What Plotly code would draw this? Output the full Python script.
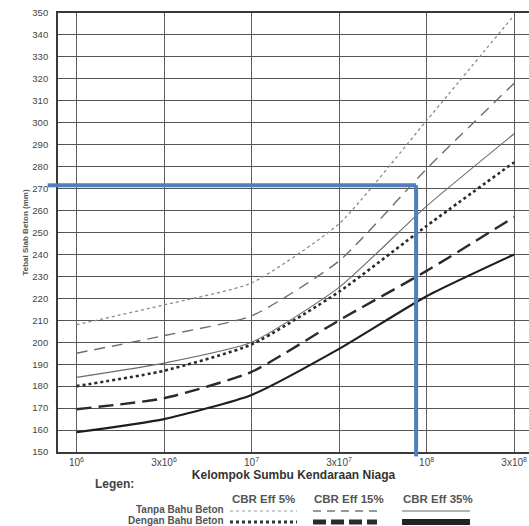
import plotly.graph_objects as go

# ---- data ----
x_labels = ["10<sup>6</sup>", "3x10<sup>6</sup>", "10<sup>7</sup>",
            "3x10<sup>7</sup>", "10<sup>8</sup>", "3x10<sup>8</sup>"]
x_pos = [0, 1, 2, 3, 4, 5]          # equally spaced category positions

cbr5_tanpa = [208, 217, 227, 254, 301, 349]
cbr15_tanpa = [195, 203, 212, 237, 279, 318]
cbr35_tanpa = [184, 190.5, 200, 225, 262, 295]
cbr5_dengan = [180, 187, 199, 223, 253, 282]
cbr15_dengan = [169.5, 174.5, 186.5, 210, 232.5, 257]
cbr35_dengan = [159, 165, 176, 197, 221, 240]

y_ticks = list(range(150, 351, 10))

guide_y = 271.5     # blue reading line: slab thickness
guide_x = 3.88      # blue reading line: traffic position

col_headers = ["CBR Eff 5%", "CBR Eff 15%", "CBR Eff 35%"]
row_labels = ["Tanpa Bahu Beton", "Dengan Bahu Beton"]

# ---- styles ----
styles = [
    (cbr5_tanpa, dict(color="#8a8a8a", width=1.3, dash="dot")),
    (cbr15_tanpa, dict(color="#6e6e6e", width=1.4, dash="11px,7px")),
    (cbr35_tanpa, dict(color="#6a6a6a", width=1.1)),
    (cbr5_dengan, dict(color="#2a2a2a", width=2.6, dash="dot")),
    (cbr15_dengan, dict(color="#2a2a2a", width=2.4, dash="15px,7px")),
    (cbr35_dengan, dict(color="#1e1e1e", width=2.2)),
]
names = ["CBR 5% tanpa", "CBR 15% tanpa", "CBR 35% tanpa",
         "CBR 5% dengan", "CBR 15% dengan", "CBR 35% dengan"]

fig = go.Figure()
for (vals, ln), nm in zip(styles, names):
    fig.add_trace(go.Scatter(x=x_pos, y=vals, mode="lines", name=nm,
                             line=dict(shape="spline", smoothing=0.55, **ln),
                             showlegend=False, hoverinfo="skip"))

FONT = "Liberation Sans, Arial, sans-serif"
x_rng = [-0.211, 5.17]

fig.update_layout(
    width=529, height=526,
    margin=dict(l=58, r=0, t=13, b=74, autoexpand=False),
    paper_bgcolor="white", plot_bgcolor="white",
    font=dict(family=FONT, color="#444"),
    xaxis=dict(range=x_rng, tickmode="array", tickvals=x_pos, ticktext=x_labels,
               showgrid=True, gridcolor="#5e5e5e", gridwidth=1.3,
               showline=True, linecolor="#3a3a3a", linewidth=1.8, mirror=True,
               ticks="", tickfont=dict(size=10, color="#444"), zeroline=False,
               automargin=False,
               title=dict(text="<b>Kelompok Sumbu Kendaraan Niaga</b>",
                          font=dict(size=12, color="#333"), standoff=3)),
    yaxis=dict(range=[150, 350], tickmode="array", tickvals=y_ticks,
               showgrid=True, gridcolor="#555", gridwidth=1.3,
               showline=True, linecolor="#3a3a3a", linewidth=1.8, mirror=True,
               ticks="", ticklabelstandoff=6, automargin=False,
               tickfont=dict(size=9.5, color="#444"), zeroline=False,
               title=dict(text="<b>Tebal Slab Beton (mm)</b>",
                          font=dict(size=8, color="#555"), standoff=3)),
)

blue = "#4f7fbd"
# blue reading lines
fig.add_shape(type="line", xref="x", yref="y", x0=x_rng[0], x1=guide_x,
              y0=guide_y, y1=guide_y, line=dict(color=blue, width=4), layer="above")
fig.add_shape(type="line", xref="paper", yref="y", x0=-0.022, x1=0.002,
              y0=guide_y, y1=guide_y, line=dict(color=blue, width=4), layer="above")
fig.add_shape(type="line", xref="x", yref="y", x0=guide_x, x1=guide_x,
              y0=guide_y, y1=150, line=dict(color=blue, width=4), layer="above")
fig.add_shape(type="line", xref="x", yref="paper", x0=guide_x, x1=guide_x,
              y0=0.002, y1=-0.01, line=dict(color=blue, width=4), layer="above")

# ---- legend table below the chart ----
def px_to_paper_x(px):
    return (px - 58) / 471

def px_to_paper_y(py):
    return (452 - py) / 439

fig.add_annotation(text="<b>Legen:</b>", xref="paper", yref="paper",
                   x=px_to_paper_x(93), y=px_to_paper_y(484), xanchor="left",
                   yanchor="middle", showarrow=False,
                   font=dict(size=12, color="#444"))

col_centers = [263, 349, 438]
col_spans = [(230, 297), (313, 377), (402, 470)]
for h, cx in zip(col_headers, col_centers):
    fig.add_annotation(text="<b>%s</b>" % h, xref="paper", yref="paper",
                       x=px_to_paper_x(cx), y=px_to_paper_y(499),
                       xanchor="center", yanchor="middle", showarrow=False,
                       font=dict(size=11.5, color="#555"))

row_y = [509, 520]
for lbl, ry in zip(row_labels, row_y):
    fig.add_annotation(text="<b>%s</b>" % lbl, xref="paper", yref="paper",
                       x=px_to_paper_x(226), y=px_to_paper_y(ry),
                       xanchor="right", yanchor="middle", showarrow=False,
                       font=dict(size=10, color="#555"))

sample_styles = [
    [dict(color="#999", width=1.2, dash="dot"),
     dict(color="#777", width=1.3, dash="8px,6px"),
     dict(color="#666", width=1.2)],
    [dict(color="#333", width=3, dash="dot"),
     dict(color="#2a2a2a", width=5, dash="13px,5px"),
     dict(color="#222", width=6)],
]
for r, ry in enumerate([511, 522]):
    for c, (a, b) in enumerate(col_spans):
        fig.add_shape(type="line", xref="paper", yref="paper",
                      x0=px_to_paper_x(a), x1=px_to_paper_x(b),
                      y0=px_to_paper_y(ry), y1=px_to_paper_y(ry),
                      line=sample_styles[r][c])

fig.write_html("out.html",
               config={"displayModeBar": False},
               post_script="document.body.style.margin='0';"
                           "document.body.style.overflow='hidden';")
